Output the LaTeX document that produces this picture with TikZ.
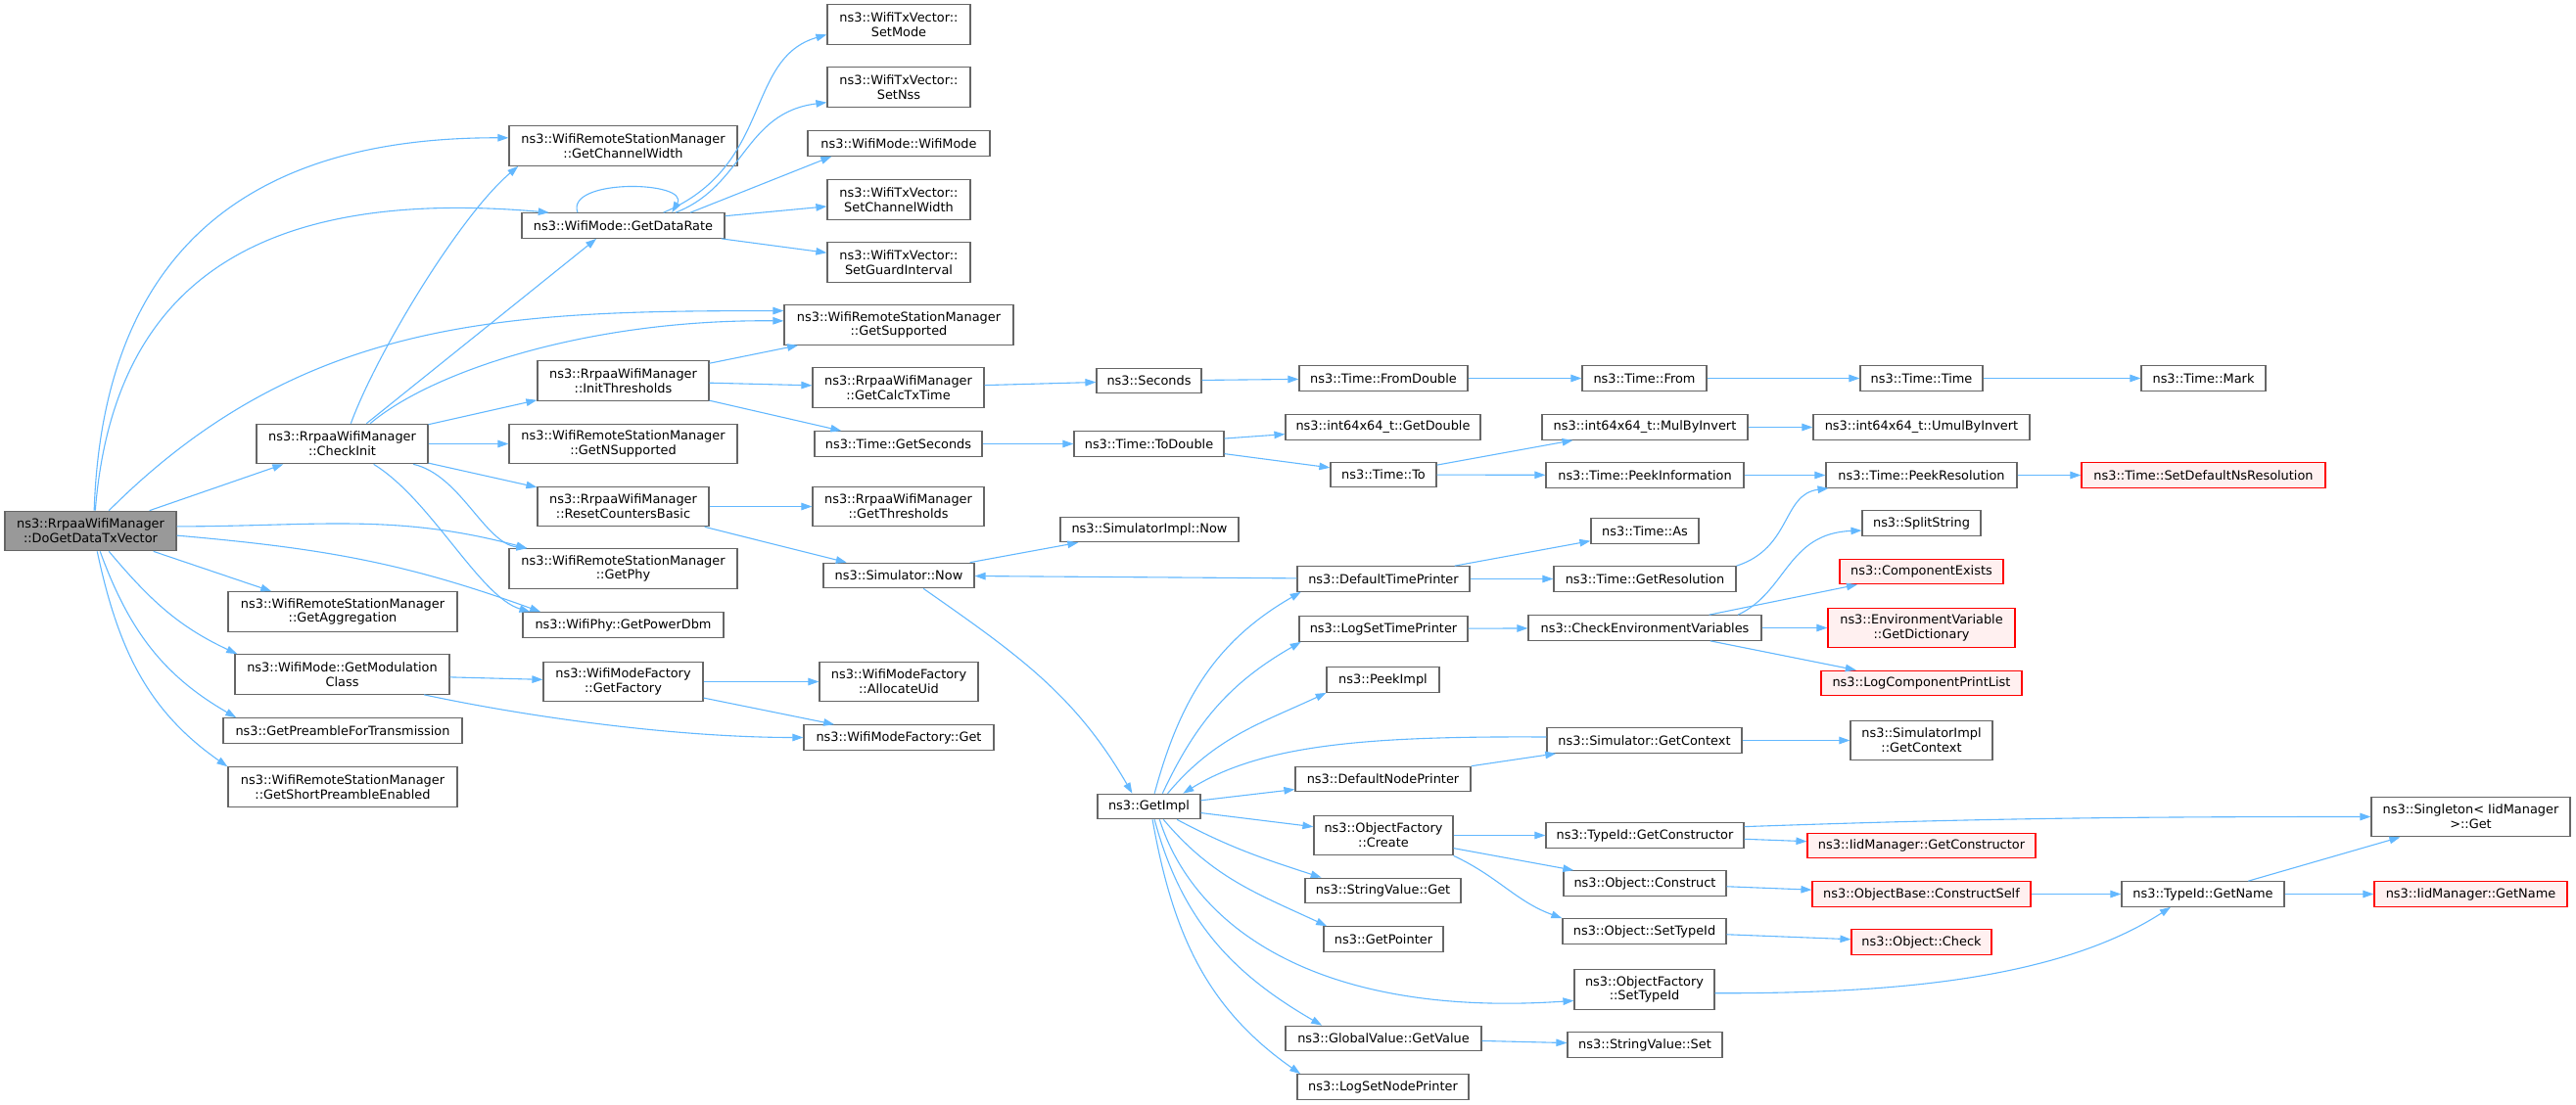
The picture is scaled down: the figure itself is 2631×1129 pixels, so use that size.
\documentclass[tikz,border=0pt]{standalone}
\usepackage{fontspec}
\setmainfont{DejaVu Sans}
\usetikzlibrary{arrows.meta}
\definecolor{edgeblue}{HTML}{63B8FF}
\definecolor{boxgray}{HTML}{666666}
\definecolor{rootfill}{HTML}{999999}
\definecolor{truncred}{HTML}{FF0000}
\definecolor{truncfill}{HTML}{FFF0F0}
\newcommand{\fnfont}{\fontsize{12.9}{14.7}\selectfont}
\tikzset{
  fn/.style={draw=boxgray, line width=1.2pt, fill=white, minimum height=25.5pt,
    inner sep=1pt, align=center, font=\fnfont},
  fn2/.style={fn, minimum height=40.5pt},
  root/.style={fn2, fill=rootfill},
  trunc/.style={draw=truncred, fill=truncfill},
  call/.style={->, color=edgeblue, line width=1.1pt}
}
\begin{document}
\begin{tikzpicture}[>={Triangle[length=11pt,width=7.5pt]}, x=1pt, y=1pt]
\useasboundingbox (0,0) rectangle (2631,-1129);

\node[root, minimum width=175pt] (dgd) at (92.5,-542.5) {ns3::RrpaaWifiManager\\::DoGetDataTxVector};

\node[fn2, minimum width=175pt] (ci) at (349.5,-453.5) {ns3::RrpaaWifiManager\\::CheckInit};
\node[fn2, minimum width=234pt] (gagg) at (350,-625) {ns3::WifiRemoteStationManager\\::GetAggregation};
\node[fn2, minimum width=219pt] (gmod) at (349.5,-689) {ns3::WifiMode::GetModulation\\Class};
\node[fn, minimum width=244pt] (gpre) at (350,-746.5) {ns3::GetPreambleForTransmission};
\node[fn2, minimum width=234pt] (gspe) at (350,-804) {ns3::WifiRemoteStationManager\\::GetShortPreambleEnabled};

\node[fn2, minimum width=233pt] (gcw) at (636.5,-149) {ns3::WifiRemoteStationManager\\::GetChannelWidth};
\node[fn, minimum width=207pt] (gdr) at (636.5,-230.5) {ns3::WifiMode::GetDataRate};
\node[fn2, minimum width=175pt] (ithr) at (636.5,-389) {ns3::RrpaaWifiManager\\::InitThresholds};
\node[fn2, minimum width=233pt] (gnsup) at (636.5,-453.5) {ns3::WifiRemoteStationManager\\::GetNSupported};
\node[fn2, minimum width=175pt] (rcb) at (636.5,-517.5) {ns3::RrpaaWifiManager\\::ResetCountersBasic};
\node[fn2, minimum width=233pt] (gphy) at (636.5,-581) {ns3::WifiRemoteStationManager\\::GetPhy};
\node[fn, minimum width=205pt] (gpow) at (636.5,-638.5) {ns3::WifiPhy::GetPowerDbm};
\node[fn2, minimum width=163pt] (gfac) at (636.5,-696.5) {ns3::WifiModeFactory\\::GetFactory};

\node[fn2, minimum width=146pt] (smode) at (918,-25) {ns3::WifiTxVector::\\SetMode};
\node[fn2, minimum width=146pt] (snss) at (918,-89) {ns3::WifiTxVector::\\SetNss};
\node[fn, minimum width=186pt] (wmode) at (918,-146.5) {ns3::WifiMode::WifiMode};
\node[fn2, minimum width=146pt] (scw) at (918,-204) {ns3::WifiTxVector::\\SetChannelWidth};
\node[fn2, minimum width=146pt] (sgi) at (918,-268) {ns3::WifiTxVector::\\SetGuardInterval};
\node[fn2, minimum width=234pt] (gsup) at (918,-332) {ns3::WifiRemoteStationManager\\::GetSupported};
\node[fn2, minimum width=175pt] (gcalc) at (917.5,-396) {ns3::RrpaaWifiManager\\::GetCalcTxTime};
\node[fn, minimum width=171pt] (gsec) at (917.5,-453.5) {ns3::Time::GetSeconds};
\node[fn2, minimum width=175pt] (gthr) at (917.5,-517.5) {ns3::RrpaaWifiManager\\::GetThresholds};
\node[fn, minimum width=154pt] (snow) at (918,-588) {ns3::Simulator::Now};
\node[fn2, minimum width=162pt] (auid) at (918,-696.5) {ns3::WifiModeFactory\\::AllocateUid};
\node[fn, minimum width=194pt] (wmfg) at (918,-753.5) {ns3::WifiModeFactory::Get};

\node[fn, minimum width=107pt] (secs) at (1173.5,-389) {ns3::Seconds};
\node[fn, minimum width=153pt] (todbl) at (1173.5,-453.5) {ns3::Time::ToDouble};
\node[fn, minimum width=182pt] (simnow) at (1174,-541) {ns3::SimulatorImpl::Now};
\node[fn, minimum width=105pt] (gimp) at (1173.5,-824) {ns3::GetImpl};

\node[fn, minimum width=172pt] (fromdbl) at (1413,-386.5) {ns3::Time::FromDouble};
\node[fn, minimum width=199pt] (getdbl) at (1412.5,-436.5) {ns3::int64x64\_t::GetDouble};
\node[fn, minimum width=108pt] (timeto) at (1413,-485) {ns3::Time::To};
\node[fn, minimum width=176pt] (dtp) at (1413,-591.5) {ns3::DefaultTimePrinter};
\node[fn, minimum width=172pt] (lstp) at (1413,-642.5) {ns3::LogSetTimePrinter};
\node[fn, minimum width=115pt] (pimpl) at (1412.5,-694.5) {ns3::PeekImpl};
\node[fn, minimum width=179pt] (dnp) at (1412.5,-796) {ns3::DefaultNodePrinter};
\node[fn2, minimum width=142pt] (ofc) at (1413,-853.5) {ns3::ObjectFactory\\::Create};
\node[fn, minimum width=159pt] (svget) at (1412.5,-910) {ns3::StringValue::Get};
\node[fn, minimum width=122pt] (gptr) at (1413,-959.5) {ns3::GetPointer};
\node[fn, minimum width=200pt] (ggv) at (1413,-1061) {ns3::GlobalValue::GetValue};
\node[fn, minimum width=175pt] (lsnp) at (1412.5,-1110.5) {ns3::LogSetNodePrinter};

\node[fn, minimum width=127pt] (tfrom) at (1679.5,-386.5) {ns3::Time::From};
\node[fn, minimum width=210pt] (mulinv) at (1680,-436.5) {ns3::int64x64\_t::MulByInvert};
\node[fn, minimum width=202pt] (peekinf) at (1680,-485.5) {ns3::Time::PeekInformation};
\node[fn, minimum width=110pt] (tas) at (1680,-542.5) {ns3::Time::As};
\node[fn, minimum width=186pt] (gres) at (1680,-591.5) {ns3::Time::GetResolution};
\node[fn, minimum width=238pt] (cev) at (1680,-641.5) {ns3::CheckEnvironmentVariables};
\node[fn, minimum width=199pt] (sgc) at (1679.5,-756.5) {ns3::Simulator::GetContext};
\node[fn, minimum width=202pt] (tgc) at (1680,-853.5) {ns3::TypeId::GetConstructor};
\node[fn, minimum width=166pt] (oc) at (1680,-902.5) {ns3::Object::Construct};
\node[fn, minimum width=167pt] (ost) at (1679.5,-951.5) {ns3::Object::SetTypeId};
\node[fn2, minimum width=143pt] (ofst) at (1679.5,-1011) {ns3::ObjectFactory\\::SetTypeId};
\node[fn, minimum width=158pt] (svset) at (1680,-1067.5) {ns3::StringValue::Set};

\node[fn, minimum width=125pt] (ttime) at (1962.5,-386.5) {ns3::Time::Time};
\node[fn, minimum width=221pt] (umul) at (1962.5,-436.5) {ns3::int64x64\_t::UmulByInvert};
\node[fn, minimum width=195pt] (pres) at (1962.5,-485.5) {ns3::Time::PeekResolution};
\node[fn, minimum width=121pt] (split) at (1962.5,-534.5) {ns3::SplitString};
\node[fn, trunc, minimum width=167pt] (compex) at (1962.5,-584) {ns3::ComponentExists};
\node[fn2, trunc, minimum width=191pt] (gdict) at (1962.5,-641.5) {ns3::EnvironmentVariable\\::GetDictionary};
\node[fn, trunc, minimum width=205pt] (lcpl) at (1962.5,-698) {ns3::LogComponentPrintList};
\node[fn2, minimum width=145pt] (sigc) at (1962.5,-756.5) {ns3::SimulatorImpl\\::GetContext};
\node[fn, trunc, minimum width=233pt] (igc) at (1962.5,-864) {ns3::IidManager::GetConstructor};
\node[fn, trunc, minimum width=223pt] (obcs) at (1962.5,-913.5) {ns3::ObjectBase::ConstructSelf};
\node[fn, trunc, minimum width=143pt] (ocheck) at (1962.5,-962.5) {ns3::Object::Check};

\node[fn, minimum width=127pt] (tmark) at (2250.5,-386.5) {ns3::Time::Mark};
\node[fn, trunc, minimum width=249pt] (sdnr) at (2250.5,-485.5) {ns3::Time::SetDefaultNsResolution};
\node[fn, minimum width=166pt] (tgn) at (2250,-913.5) {ns3::TypeId::GetName};

\node[fn2, minimum width=203pt] (sing) at (2523.5,-834.5) {ns3::Singleton< IidManager\\ >::Get};
\node[fn, trunc, minimum width=197pt] (igname) at (2523.5,-913.5) {ns3::IidManager::GetName};

\draw[call] (dgd.80) .. controls (105,-260) and (250,-140) .. (gcw.176);
\draw[call] (dgd.77) .. controls (115,-300) and (250,-190) .. (gdr.170);
\path[call] (dgd.48) edge[out=45,in=180] (gsup.173);
\path[call] (dgd) edge (ci);
\path[call] (dgd.3) edge[out=0,in=165] (gphy.168);
\path[call] (dgd.-3) edge[out=-5,in=160] (gpow.171);
\path[call] (dgd.-18) edge (gagg.164);
\path[call] (dgd.-48) edge[out=-50,in=155] (gmod.169);
\path[call] (dgd.-65) edge[out=-70,in=150] (gpre.173);
\path[call] (dgd.-72) edge[out=-78,in=145] (gspe.170);

\draw[call] (ci.67) .. controls (385,-360) and (470,-220) .. (gcw.-169);
\path[call] (ci.40) edge (gdr.-154);
\draw[call] (ci.36) .. controls (440,-380) and (600,-326) .. (gsup.178);
\path[call] (ci) edge (ithr);
\path[call] (ci) edge (gnsup);
\path[call] (ci) edge (rcb);
\draw[call] (ci.-16) .. controls (470,-485) and (495,-555) .. (gphy.168);
\draw[call] (ci.-33) .. controls (440,-510) and (490,-610) .. (gpow.172);

\path[call] (gdr.164) edge[out=110,in=60] (gdr.15);
\draw[call] (gdr.18) .. controls (790,-170) and (760,-60) .. (smode.-172);
\draw[call] (gdr.14) .. controls (760,-190) and (760,-115) .. (snss.-168);
\path[call] (gdr.11) edge (wmode.-169);
\path[call] (gdr) edge (scw);
\path[call] (gdr) edge (sgi);

\path[call] (ithr) edge (gsup);
\path[call] (ithr) edge (gcalc);
\path[call] (ithr) edge (gsec);
\path[call] (rcb) edge (gthr);
\path[call] (rcb) edge (snow);
\path[call] (gmod) edge (gfac);
\path[call] (gmod.-14) edge[out=-12,in=180,looseness=0.8] (wmfg);
\path[call] (gfac) edge (auid);
\path[call] (gfac) edge (wmfg);

\path[call] (gcalc) edge (secs);
\path[call] (secs) edge (fromdbl);
\path[call] (fromdbl) edge (tfrom);
\path[call] (tfrom) edge (ttime);
\path[call] (ttime) edge (tmark);
\path[call] (gsec) edge (todbl);
\path[call] (todbl) edge (getdbl);
\path[call] (todbl) edge (timeto);
\path[call] (timeto) edge (mulinv);
\path[call] (timeto) edge (peekinf);
\path[call] (mulinv) edge (umul);
\path[call] (peekinf) edge (pres);
\path[call] (pres) edge (sdnr);

\path[call] (snow) edge (simnow);
\path[call] (snow.-28) edge[out=-35,in=120] (gimp.142);
\path[call] (gimp.67) edge[out=75,in=210] (dtp.-171);
\path[call] (gimp.44) edge[out=65,in=210] (lstp.-171);
\path[call] (gimp.35) edge[out=50,in=205] (pimpl.-167);
\path[call] (gimp) edge (dnp);
\path[call] (gimp) edge (ofc);
\path[call] (gimp.-25) edge[out=-28,in=162] (svget.168);
\path[call] (gimp.-42) edge[out=-50,in=155] (gptr.167);
\draw[call] (gimp.-51) .. controls (1220,-950) and (1350,-1040) .. (ofst.-171);
\path[call] (gimp.-67) edge[out=-75,in=150] (ggv.168);
\path[call] (gimp.-75) edge[out=-80,in=145] (lsnp.171);

\path[call] (dtp) edge (snow);
\path[call] (dtp) edge (tas);
\path[call] (dtp) edge (gres);
\draw[call] (gres.north east) .. controls (1830,-560) and (1820,-505) .. (pres.-172);
\path[call] (lstp) edge (cev);
\draw[call] (cev.8) .. controls (1825,-605) and (1825,-545) .. (split.-173);
\path[call] (cev) edge (compex);
\path[call] (cev) edge (gdict);
\path[call] (cev) edge (lcpl);

\path[call] (dnp) edge (sgc);
\path[call] (sgc) edge (sigc);
\draw[call] (sgc.178) .. controls (1400,-752) and (1290,-760) .. (gimp.21);

\path[call] (ofc) edge (tgc);
\path[call] (ofc) edge (oc);
\path[call] (ofc.south east) edge[out=-25,in=160] (ost.171);
\path[call] (tgc.5) edge[out=2,in=180] (sing);
\path[call] (tgc) edge (igc);
\path[call] (oc) edge (obcs);
\path[call] (obcs) edge (tgn);
\path[call] (ost) edge (ocheck);
\path[call] (ofst.-3) edge[out=0,in=213,looseness=0.8] (tgn.-158);
\path[call] (tgn) edge (sing);
\path[call] (tgn) edge (igname);
\path[call] (ggv) edge (svset);
\end{tikzpicture}
\end{document}
